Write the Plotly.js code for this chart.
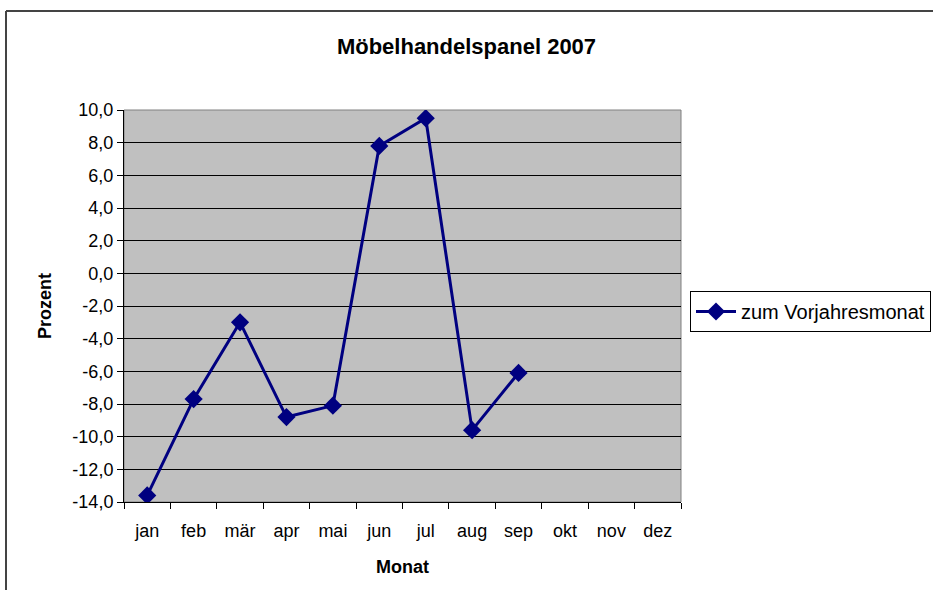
<!DOCTYPE html>
<html>
<head>
<meta charset="utf-8">
<script src="https://cdn.plot.ly/plotly-3.0.1.min.js"></script>
<style>html,body{margin:0;padding:0;background:#fff;}#chart{width:933px;height:590px;}</style>
</head>
<body>
<div id="chart"></div>
<script>
const months = ['jan','feb','mär','apr','mai','jun','jul','aug','sep','okt','nov','dez'];
const values = [-13.6, -7.7, -3.0, -8.8, -8.1, 7.8, 9.5, -9.6, -6.1, null, null, null];
const yTickVals = [-14,-12,-10,-8,-6,-4,-2,0,2,4,6,8,10];
const yTickText = ['-14,0','-12,0','-10,0','-8,0','-6,0','-4,0','-2,0','0,0','2,0','4,0','6,0','8,0','10,0'];
const seriesName = 'zum Vorjahresmonat';

const trace = {
  x: months, y: values, type: 'scatter', mode: 'lines+markers', name: seriesName,
  line: {color: '#000080', width: 3},
  marker: {symbol: 'diamond', size: 14, color: '#000080'},
  connectgaps: false
};
const font = {family: 'Liberation Sans, Arial, sans-serif', color: '#000'};
const layout = {
  width: 933, height: 590,
  margin: {l: 124, r: 252, t: 110, b: 88},
  paper_bgcolor: '#fff', plot_bgcolor: '#c0c0c0',
  font: Object.assign({size: 18}, font),
  title: {text: '<b>Möbelhandelspanel 2007</b>', x: 0.5, xref: 'container', xanchor: 'center', y: 1 - 46/590, yanchor: 'middle', font: Object.assign({size: 22}, font)},
  xaxis: {
    type: 'category', categoryorder: 'array', categoryarray: months,
    range: [-0.5, 11.5], tickson: 'boundaries', ticks: 'outside', ticklen: 6, tickcolor: '#000',
    showline: true, linecolor: '#000', linewidth: 1, showgrid: false, zeroline: false,
    ticklabelstandoff: 12,
    tickfont: Object.assign({size: 18}, font),
    title: {text: '<b>Monat</b>', font: Object.assign({size: 18}, font), standoff: 20}
  },
  yaxis: {
    range: [-14, 10], tickvals: yTickVals, ticktext: yTickText,
    ticks: 'outside', ticklen: 6, tickcolor: '#000',
    showline: true, linecolor: '#000', linewidth: 1,
    showgrid: true, gridcolor: '#000', gridwidth: 1, zeroline: false,
    tickfont: Object.assign({size: 18}, font),
    title: {text: '<b>Prozent</b>', font: Object.assign({size: 18}, font), standoff: 16}
  },
  showlegend: true,
  legend: {x: 690/933, xref: 'container', y: 1 - 291/590, yref: 'container', xanchor: 'left', yanchor: 'top',
    bgcolor: '#fff', bordercolor: '#000', borderwidth: 1, font: Object.assign({size: 20}, font), itemwidth: 40,
    tracegroupgap: 0},
  shapes: [
    {type: 'rect', xref: 'paper', yref: 'paper', x0: 0, x1: 1, y0: 0, y1: 1, line: {color: '#808080', width: 1}, fillcolor: 'rgba(0,0,0,0)', layer: 'below'},
    {type: 'line', xref: 'paper', yref: 'paper', x0: -118/557, x1: 1 + 260/557, y0: 1 + 99/392, y1: 1 + 99/392, line: {color: '#444', width: 2}},
    {type: 'line', xref: 'paper', yref: 'paper', x0: -118/557, x1: -118/557, y0: -100/392, y1: 1 + 99/392, line: {color: '#444', width: 2}}
  ]
};
Plotly.newPlot('chart', [trace], layout, {displayModeBar: false});
</script>
</body>
</html>
